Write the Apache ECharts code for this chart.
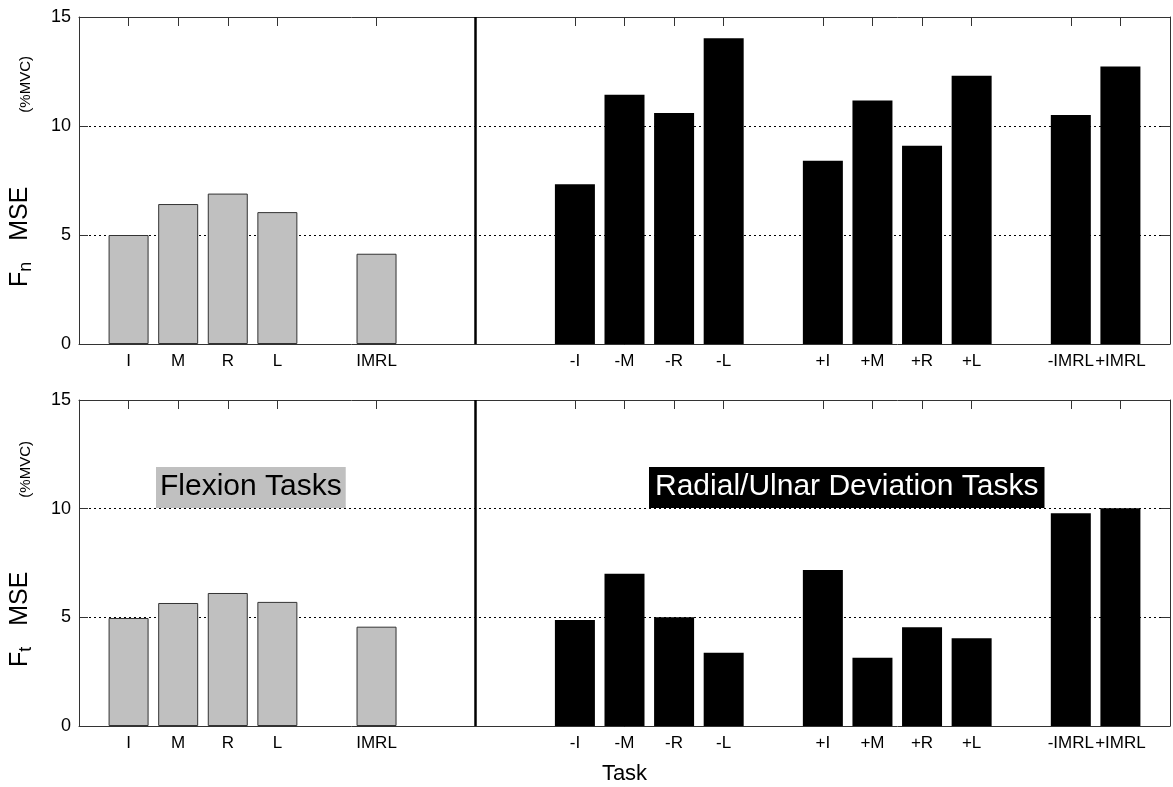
<!DOCTYPE html>
<html>
<head>
<meta charset="utf-8">
<script src="https://cdn.jsdelivr.net/npm/echarts@6/dist/echarts.min.js"></script>
<style>
html,body{margin:0;padding:0;background:#fff;}
#chart{width:1173px;height:787px;}
</style>
</head>
<body>
<div id="chart"></div>
<script>
// tick slots along the x axis ('' = empty slot)
const slotLabels = ['', 'I', 'M', 'R', 'L', '', 'IMRL', '', '', '', '-I', '-M', '-R', '-L', '', '+I', '+M', '+R', '+L', '', '-IMRL', '+IMRL', ''];
const dividerSlot = 8;

const flexTasks = ['I', 'M', 'R', 'L', 'IMRL'];
const flexFn = [5.0, 6.42, 6.90, 6.05, 4.14];
const flexFt = [4.97, 5.66, 6.12, 5.71, 4.57];

const devTasks = ['-I', '-M', '-R', '-L', '+I', '+M', '+R', '+L', '-IMRL', '+IMRL'];
const devFn = [7.33, 11.43, 10.60, 14.03, 8.41, 11.17, 9.09, 12.30, 10.51, 12.73];
const devFt = [4.88, 7.01, 5.00, 3.37, 7.18, 3.14, 4.54, 4.04, 9.79, 10.02];

const yTicks = [0, 5, 10, 15];

const categories = slotLabels.map((s, i) => s || ('gap' + i));
const FONT = '"Liberation Sans", Arial, Helvetica, sans-serif';
const AX = '#333';

function bottomX(gi, withName) {
  return {
    type: 'category', gridIndex: gi, position: 'bottom', data: categories, boundaryGap: false,
    axisLine: { show: true, onZero: false, lineStyle: { color: AX, width: 1 } },
    axisTick: { show: false },
    axisLabel: { interval: 0, margin: 9, color: '#000', fontSize: 17, fontFamily: FONT,
      formatter: v => v.startsWith('gap') ? '' : v },
    splitLine: { show: false },
    name: withName ? 'Task' : '', nameLocation: 'middle', nameGap: 37,
    nameTextStyle: { color: '#000', fontSize: 22, fontFamily: FONT }
  };
}
function topX(gi) {
  return {
    type: 'category', gridIndex: gi, position: 'top', data: categories, boundaryGap: false,
    axisLine: { show: true, onZero: false, lineStyle: { color: AX, width: 1 } },
    axisTick: { show: true, inside: true, length: 9, lineStyle: { color: AX },
      interval: (idx) => slotLabels[idx] !== '' },
    axisLabel: { show: false }, splitLine: { show: false }
  };
}
function leftY(gi, sub) {
  return {
    type: 'value', gridIndex: gi, position: 'left', min: yTicks[0], max: yTicks[yTicks.length - 1], interval: 5,
    axisLine: { show: true, onZero: false, lineStyle: { color: AX, width: 1 } },
    axisTick: { show: true, inside: true, length: 9, lineStyle: { color: AX } },
    axisLabel: { margin: 8, color: '#000', fontSize: 18, fontFamily: FONT },
    splitLine: { show: true, lineStyle: { color: '#000', width: 1, type: [2, 3] } },
    name: '{sp|}{f|F}{s|' + sub + '}{f|   MSE}{g|}{p|(%MVC)}',
    nameLocation: 'middle', nameRotate: 90, nameGap: 44,
    nameTextStyle: {
      color: '#000', fontFamily: FONT,
      rich: {
        sp: { width: 18, lineHeight: 10, verticalAlign: 'bottom' },
        f: { fontSize: 25, lineHeight: 25, fontFamily: FONT, color: '#000', verticalAlign: 'bottom', padding: [0, 0, 2, 0] },
        s: { fontSize: 18, lineHeight: 18, fontFamily: FONT, color: '#000', verticalAlign: 'bottom' },
        g: { width: 74, lineHeight: 10, verticalAlign: 'bottom' },
        p: { fontSize: 15, lineHeight: 15, fontFamily: FONT, color: '#000', verticalAlign: 'bottom', padding: [0, 0, 2, 0] }
      }
    }
  };
}
function rightY(gi) {
  return {
    type: 'value', gridIndex: gi, position: 'right', min: 0, max: 15, interval: 5,
    axisLine: { show: true, onZero: false, lineStyle: { color: AX, width: 1 } },
    axisTick: { show: true, inside: true, length: 9, lineStyle: { color: AX } },
    axisLabel: { show: false }, splitLine: { show: false }
  };
}
function flexSeries(xi, yi, vals) {
  return {
    type: 'bar', xAxisIndex: xi, yAxisIndex: yi, barWidth: 40, barGap: '-100%',
    itemStyle: { color: '#c0c0c0', borderColor: '#333', borderWidth: 1 },
    data: flexTasks.map((t, i) => [t, vals[i]]),
    markLine: {
      silent: true, symbol: 'none', label: { show: false },
      lineStyle: { color: '#000', width: 2.5, type: 'solid' },
      data: [{ xAxis: categories[dividerSlot] }]
    }
  };
}
function devSeries(xi, yi, vals) {
  return {
    type: 'bar', xAxisIndex: xi, yAxisIndex: yi, barWidth: 40, barGap: '-100%',
    itemStyle: { color: '#000' },
    data: devTasks.map((t, i) => [t, vals[i]])
  };
}

const chart = echarts.init(document.getElementById('chart'));
chart.setOption({
  backgroundColor: '#fff',
  animation: false,
  grid: [
    { left: 79, right: 2, top: 17, height: 327 },
    { left: 79, right: 2, top: 400, height: 326 }
  ],
  xAxis: [bottomX(0, false), topX(0), bottomX(1, true), topX(1)],
  yAxis: [leftY(0, 'n'), rightY(0), leftY(1, 't'), rightY(1)],
  series: [
    flexSeries(0, 0, flexFn), devSeries(0, 0, devFn),
    flexSeries(2, 2, flexFt), devSeries(2, 2, devFt)
  ],
  graphic: [
    { type: 'text', left: 156, top: 467, z: 10,
      style: { text: 'Flexion Tasks', font: '30px ' + FONT, fill: '#000', backgroundColor: '#c0c0c0', padding: [5, 4, 6, 4] } },
    { type: 'text', left: 649, top: 467, z: 10,
      style: { text: 'Radial/Ulnar Deviation Tasks', font: '30px ' + FONT, fill: '#fff', backgroundColor: '#000', padding: [5, 6, 6, 6] } }
  ]
});
</script>
</body>
</html>
